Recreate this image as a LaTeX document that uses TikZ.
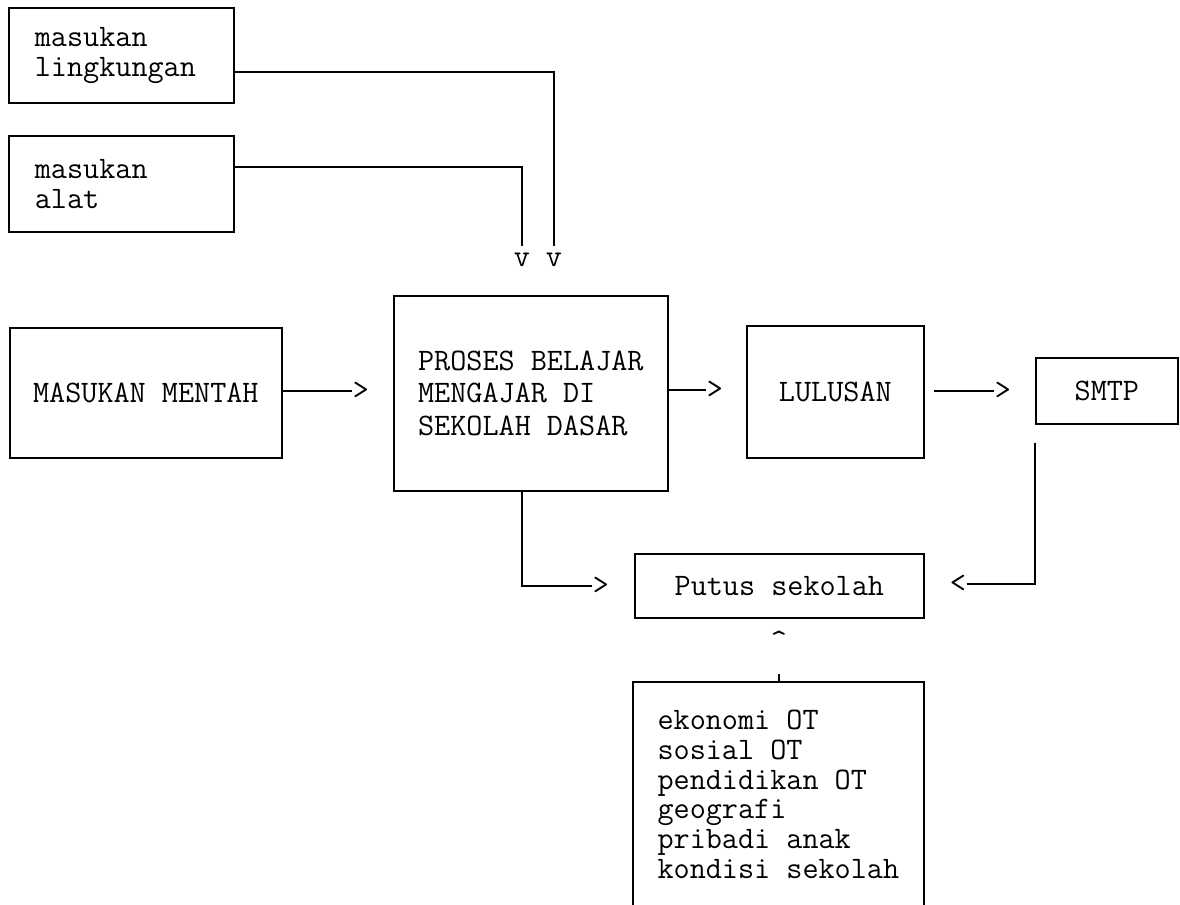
\documentclass[tikz,border=0pt]{standalone}
\usetikzlibrary{positioning,calc}
\newcommand\ketik[1][17]{\fontsize{17.8}{#1}\ttfamily}

\begin{document}
\begin{tikzpicture}[x=0.02cm, y=-0.02cm, line width=1pt, font=\ketik,
  kotak/.style={draw, inner sep=0pt, anchor=north west, align=left},
  tanda/.style={inner sep=0pt}]
\useasboundingbox (0,0) rectangle (1180,905);
% kotak
\node[kotak, minimum width=4.5cm, minimum height=1.9cm, inner xsep=0.52cm, text width=3.46cm] (lingk) at (8,7) {masukan\\lingkungan};
\node[kotak, minimum width=4.5cm, minimum height=1.92cm, inner xsep=0.52cm, text width=3.46cm] (alat) at (8,135) {masukan\\alat};
\node[kotak, minimum width=5.44cm, minimum height=2.6cm] (mentah) at (9,327) {MASUKAN MENTAH};
\node[kotak, minimum width=5.48cm, minimum height=3.9cm, font={\ketik[18.5]}] (proses) at (393,295) {PROSES BELAJAR\\MENGAJAR DI\\SEKOLAH DASAR};
\node[kotak, minimum width=3.54cm, minimum height=2.64cm] (lulus) at (746,325) {LULUSAN};
\node[kotak, minimum width=2.84cm, minimum height=1.32cm] (smtp) at (1035,357) {SMTP};
\node[kotak, minimum width=5.78cm, minimum height=1.28cm] (putus) at (634,553) {Putus sekolah};
\node[kotak, draw=none, minimum width=5.78cm, minimum height=4.46cm] (faktor) at (633,682)
  {ekonomi OT\\sosial OT\\pendidikan OT\\geografi\\pribadi anak\\kondisi sekolah};
\draw (faktor.south west) -- (faktor.north west) -- (faktor.north east) -- (faktor.south east);
% tanda panah ketikan
\node[tanda] (v1) at (522,260) {v};
\node[tanda] (v2) at (554,260) {v};
\node[tanda] (h1) at (361,391) {>};
\node[tanda] (h2) at (715,390) {>};
\node[tanda] (h3) at (1003,391) {>};
\node[tanda] (h4) at (958,584) {<};
\node[tanda] (h5) at (601,586) {>};
\node[tanda] (topi) at (779,641) {\textasciicircum};
% garis
\draw[shorten >=0.12cm] ([yshift=-0.33cm]lingk.east) -| (v2.north);
\draw[shorten >=0.12cm] ([yshift=0.34cm]alat.east) -| (v1.north);
\draw (mentah.east |- h1.west) -- (h1.west);
\draw (proses.east |- h2.west) -- (h2.west);
\draw[shorten <=0.18cm] (lulus.east |- h3.west) -- (h3.west);
\draw[shorten <=0.36cm] (smtp.south west) |- (h4.east);
\draw ([xshift=-0.18cm]proses.south) |- (h5.west);
\draw[shorten >=0.44cm] (faktor.north -| topi) -- (topi.south);
\end{tikzpicture}
\end{document}
